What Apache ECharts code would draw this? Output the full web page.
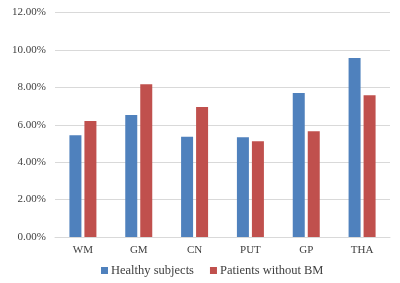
<!DOCTYPE html>
<html>
<head>
<meta charset="utf-8">
<script src="https://cdn.jsdelivr.net/npm/echarts@6/dist/echarts.min.js"></script>
<style>
  html, body { margin: 0; padding: 0; background: #fff; }
  #chart { width: 400px; height: 283px; }
</style>
</head>
<body>
<div id="chart"></div>
<script>
var categories = ['WM', 'GM', 'CN', 'PUT', 'GP', 'THA'];
var healthy = [5.44, 6.52, 5.36, 5.33, 7.70, 9.57];
var patients = [6.20, 8.17, 6.95, 5.12, 5.65, 7.58];

var font = 'Liberation Serif';
var myChart = echarts.init(document.getElementById('chart'));
myChart.setOption({
    animation: false,
    textStyle: {fontFamily: font},
    legend: {
        bottom: 1,
        left: 96,
        itemWidth: 7,
        itemHeight: 7,
        itemGap: 16,
        icon: 'rect',
        textStyle: {fontFamily: font, fontSize: 12.5, color: '#404040', padding: [0, 0, 0, -2]},
        data: ['Healthy subjects', 'Patients without BM']
    },
    grid: {left: 55, right: 10, top: 12.5, bottom: 46},
    xAxis: {
        type: 'category',
        data: categories,
        axisLine: {lineStyle: {color: '#d9d9d9'}},
        axisTick: {show: false},
        axisLabel: {fontFamily: font, fontSize: 11, color: '#404040', margin: 8}
    },
    yAxis: {
        type: 'value',
        min: 0,
        max: 12,
        interval: 2,
        axisLine: {show: false},
        axisTick: {show: false},
        splitLine: {lineStyle: {color: '#d9d9d9'}},
        axisLabel: {
            fontFamily: font, fontSize: 11, color: '#404040', margin: 9,
            formatter: function (v) { return v.toFixed(2) + '%'; }
        }
    },
    series: [
        {name: 'Healthy subjects', type: 'bar', data: healthy, barWidth: 12, barGap: '25%',
            itemStyle: {color: '#4F81BD'}},
        {name: 'Patients without BM', type: 'bar', data: patients, barWidth: 12,
            itemStyle: {color: '#C0504D'}}
    ]
});
</script>
</body>
</html>
